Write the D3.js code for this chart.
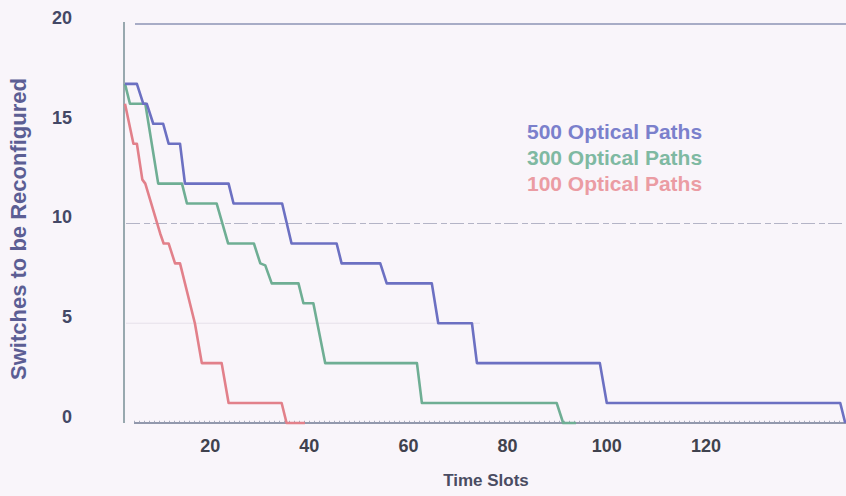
<!DOCTYPE html>
<html>
<head>
<meta charset="utf-8">
<script src="https://cdn.jsdelivr.net/npm/d3@7"></script>
<style>
  body { margin: 0; background: #f9f5fa; }
  svg { display: block; }
</style>
</head>
<body>
<div id="chart"></div>
<script>
// series: time slot and switches left
var time500 = [2.4, 4.8, 6.1, 6.8, 8.1, 10.1, 11.2, 13.5, 14.5, 23.3, 24.3, 34.1, 36.0, 45.1, 46.1, 53.9, 55.2, 64.3, 65.6, 72.4, 73.4, 98.2, 99.6, 146.7, 147.7];
var val500  = [17, 17, 16, 16, 15, 15, 14, 14, 12, 12, 11, 11, 9, 9, 8, 8, 7, 7, 5, 5, 3, 3, 1, 1, 0];

var time300 = [2.4, 3.4, 6.5, 9.1, 13.9, 14.9, 20.9, 23.2, 28.4, 29.7, 30.7, 32.0, 37.4, 38.4, 40.4, 42.8, 61.3, 62.3, 89.5, 90.8, 93.4];
var val300  = [17, 16, 16, 12, 12, 11, 11, 9, 9, 8, 7.9, 7, 7, 6, 6, 3, 3, 1, 1, 0, 0];

var time100 = [2.4, 4.1, 4.8, 5.9, 6.5, 9.5, 10.2, 11.2, 12.5, 13.5, 16.5, 17.9, 21.9, 23.3, 34.0, 35.0, 38.7];
var val100  = [16, 14, 14, 12.2, 12, 9.5, 9, 9, 8, 8, 5, 3, 3, 1, 1, 0, 0];

var seriesNames = ["500 Optical Paths", "300 Optical Paths", "100 Optical Paths"];
var xTicks = [20, 40, 60, 80, 100, 120];
var yTicks = [0, 5, 10, 15, 20];

var width = 846, height = 496;
var colors = ["#6c70c2", "#6fae94", "#e2808a"];
var legendColors = ["#7b80cc", "#7fb9a2", "#eb9ca3"];

var svg = d3.select("#chart").append("svg")
  .attr("width", width)
  .attr("height", height);

var x = d3.scaleLinear().domain([2.2, 148]).range([124, 846.7]);
var y = d3.scaleLinear().domain([0, 20]).range([423, 24]);

// grid lines
svg.append("line")
  .attr("x1", 135).attr("x2", width)
  .attr("y1", y(20)).attr("y2", y(20))
  .attr("stroke", "#8d93b4").attr("stroke-width", 1.5);
svg.append("line")
  .attr("x1", 126).attr("x2", width)
  .attr("y1", y(10)).attr("y2", y(10))
  .attr("stroke", "#b4b4c6").attr("stroke-width", 1.2)
  .attr("stroke-dasharray", "14 4 6 3");
svg.append("line")
  .attr("x1", 126).attr("x2", 480)
  .attr("y1", y(5)).attr("y2", y(5))
  .attr("stroke", "#e6e0ea").attr("stroke-width", 1.2);

// axes
svg.append("line")
  .attr("x1", x(2.2)).attr("x2", x(2.2))
  .attr("y1", 22).attr("y2", y(0))
  .attr("stroke", "#8da0a6").attr("stroke-width", 1.8);
svg.append("line")
  .attr("x1", 134).attr("x2", width)
  .attr("y1", y(0)).attr("y2", y(0))
  .attr("stroke", "#9298ac").attr("stroke-width", 1.8);
svg.append("line")
  .attr("x1", 134).attr("x2", width)
  .attr("y1", y(0) - 1.5).attr("y2", y(0) - 1.5)
  .attr("stroke", "#a6abbc").attr("stroke-width", 1.5)
  .attr("stroke-dasharray", "1 4");

svg.selectAll(".ytick")
  .data(yTicks)
  .enter().append("text")
  .attr("x", 72)
  .attr("y", d => y(d) - 5)
  .attr("text-anchor", "end")
  .attr("dominant-baseline", "middle")
  .attr("font-family", "Liberation Sans, Arial, sans-serif")
  .attr("font-weight", "bold")
  .attr("font-size", 18)
  .attr("fill", "#444866")
  .text(d => d);

svg.selectAll(".xtick")
  .data(xTicks)
  .enter().append("text")
  .attr("x", d => x(d) - 2)
  .attr("y", 452)
  .attr("text-anchor", "middle")
  .attr("font-family", "Liberation Sans, Arial, sans-serif")
  .attr("font-weight", "bold")
  .attr("font-size", 18)
  .attr("fill", "#40424e")
  .text(d => d);

svg.append("text")
  .attr("x", 486).attr("y", 486)
  .attr("text-anchor", "middle")
  .attr("font-family", "Liberation Sans, Arial, sans-serif")
  .attr("font-weight", "bold")
  .attr("font-size", 17)
  .attr("fill", "#4a4c62")
  .text("Time Slots");

svg.append("text")
  .attr("transform", "translate(26,229) rotate(-90)")
  .attr("text-anchor", "middle")
  .attr("font-family", "Liberation Sans, Arial, sans-serif")
  .attr("font-weight", "bold")
  .attr("font-size", 22)
  .attr("fill", "#5c5e94")
  .text("Switches to be Reconfigured");

// step lines
var series = [
  d3.zip(time500, val500),
  d3.zip(time300, val300),
  d3.zip(time100, val100)
];
var line = d3.line().x(d => x(d[0])).y(d => y(d[1]));

svg.selectAll(".series")
  .data(series.slice().reverse())
  .enter().append("path")
  .attr("d", line)
  .attr("fill", "none")
  .attr("stroke", (d, i) => colors[2 - i])
  .attr("stroke-width", 2.6)
  .attr("stroke-linejoin", "round");

// legend
svg.selectAll(".legend")
  .data(seriesNames)
  .enter().append("text")
  .attr("x", 527)
  .attr("y", (d, i) => 133 + i * 26)
  .attr("dominant-baseline", "middle")
  .attr("font-family", "Liberation Sans, Arial, sans-serif")
  .attr("font-weight", "bold")
  .attr("font-size", 21)
  .attr("fill", (d, i) => legendColors[i])
  .text(d => d);
</script>
</body>
</html>
